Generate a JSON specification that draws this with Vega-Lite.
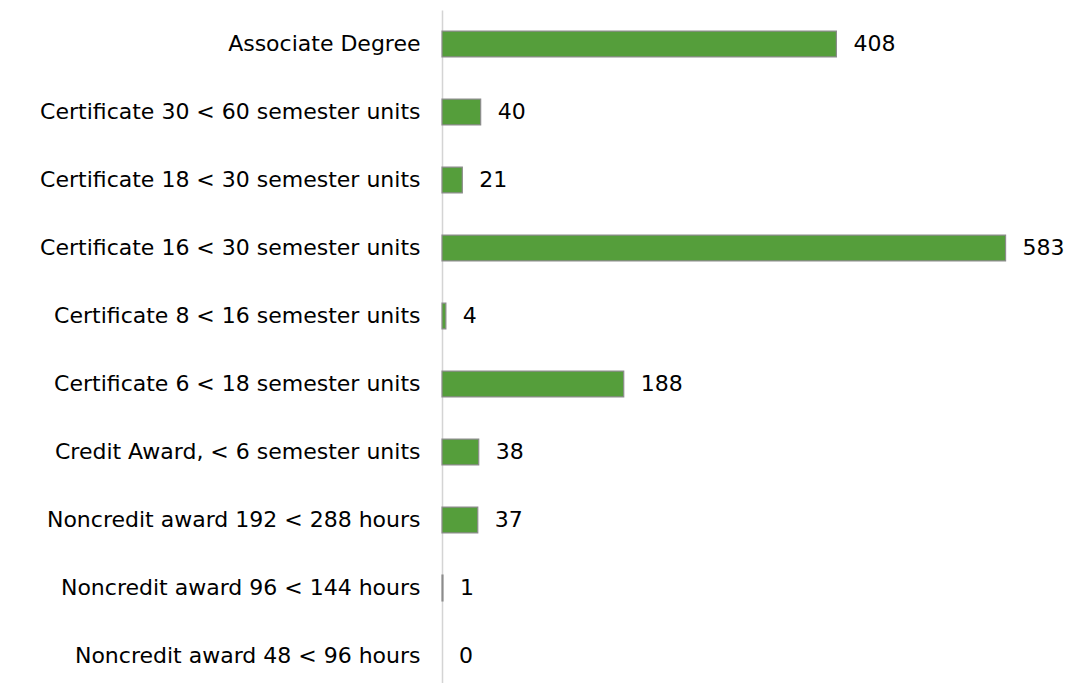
{
  "$schema": "https://vega.github.io/schema/vega-lite/v6.json",
  "autosize": {"type": "none"},
  "padding": {"left": 442, "top": 10, "right": 49, "bottom": 0},
  "width": 580,
  "height": 680,
  "background": "white",
  "config": {"view": {"stroke": null}, "font": "DejaVu Sans"},
  "data": {"values": [
    {"award": "Associate Degree", "count": 408},
    {"award": "Certificate 30 < 60 semester units", "count": 40},
    {"award": "Certificate 18 < 30 semester units", "count": 21},
    {"award": "Certificate 16 < 30 semester units", "count": 583},
    {"award": "Certificate 8 < 16 semester units", "count": 4},
    {"award": "Certificate 6 < 18 semester units", "count": 188},
    {"award": "Credit Award, < 6 semester units", "count": 38},
    {"award": "Noncredit award 192 < 288 hours", "count": 37},
    {"award": "Noncredit award 96 < 144 hours", "count": 1},
    {"award": "Noncredit award 48 < 96 hours", "count": 0}
  ]},
  "encoding": {
    "y": {"field": "award", "type": "nominal", "sort": null,
      "scale": {"paddingInner": 0.62, "paddingOuter": 0.31},
      "axis": {"title": null, "ticks": false, "domain": true, "domainColor": "#d4d4d4", "domainWidth": 1.5,
        "labelFontSize": 22, "labelColor": "#000000", "labelPadding": 22, "labelLimit": 0}},
    "x": {"field": "count", "type": "quantitative", "scale": {"domain": [0, 600]}, "axis": null}
  },
  "layer": [
    {"mark": {"type": "bar", "color": "#559e3b", "stroke": "#8c8c8c", "strokeWidth": 1.2},
     "encoding": {"strokeOpacity": {"condition": {"test": "datum.count == 0", "value": 0}, "value": 1}}},
    {"mark": {"type": "text", "align": "left", "dx": 17, "fontSize": 22, "color": "#000000"},
     "encoding": {"text": {"field": "count", "type": "quantitative"}}}
  ]
}
